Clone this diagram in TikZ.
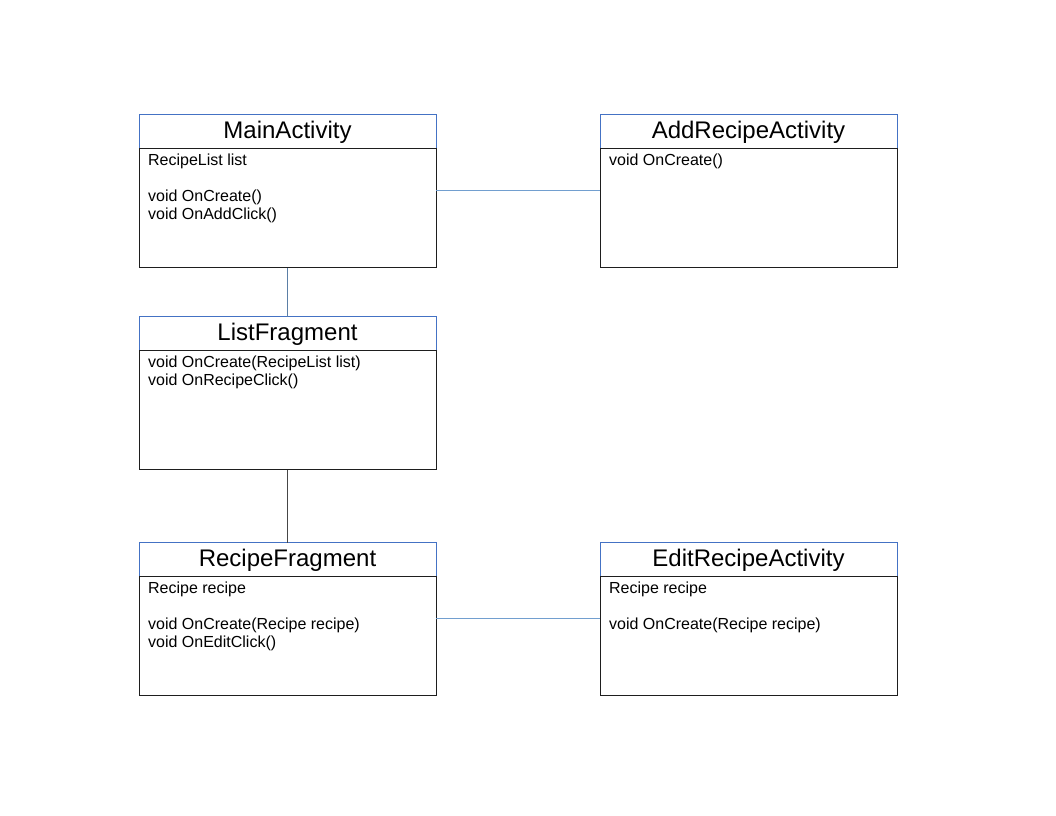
\documentclass[tikz,border=0pt]{standalone}
\usepackage{fontspec}
\setmainfont{Liberation Sans}
\usepackage{xcolor}
\definecolor{headline}{RGB}{68, 114, 196}
\definecolor{boxline}{RGB}{30, 30, 30}
\definecolor{linkblue}{RGB}{114, 159, 207}
\definecolor{linkgray}{RGB}{70, 70, 70}
\usepackage{tikz}
\usetikzlibrary{positioning}
\newcommand{\members}[1]{\parbox[t][82pt][t]{209pt}{#1}}

\begin{document}
\begin{tikzpicture}[x=0.75pt, y=-0.75pt,
    classtitle/.style={draw=headline, line width=0.75pt, minimum width=222.75pt,
      minimum height=25.5pt, inner sep=0pt, outer sep=0pt, font=\fontsize{18}{20}\selectfont},
    classbody/.style={draw=boxline, line width=0.75pt, minimum width=222.75pt, outer sep=0pt,
      inner xsep=6.75pt, inner ysep=3.6pt, font=\fontsize{12}{13.5}\selectfont},
    link/.style={line width=0.75pt}]
    \useasboundingbox (0,0) rectangle (1056,816);

    % activities and fragments
    \node[classtitle, anchor=north west] (maintitle) at (139,115) {MainActivity};
    \node[classbody, below=0pt of maintitle] (mainbody) {\members{RecipeList list\\[13.5pt]
      void OnCreate()\\ void OnAddClick()}};

    \node[classtitle, right=123pt of maintitle] (addtitle) {AddRecipeActivity};
    \node[classbody, below=0pt of addtitle] (addbody) {\members{void OnCreate()}};

    \node[classtitle, below=36.75pt of mainbody] (listtitle) {ListFragment};
    \node[classbody, below=0pt of listtitle] (listbody) {\members{void OnCreate(RecipeList list)\\
      void OnRecipeClick()}};

    \node[classtitle, below=54.75pt of listbody] (recipetitle) {RecipeFragment};
    \node[classbody, below=0pt of recipetitle] (recipebody) {\members{Recipe recipe\\[13.5pt]
      void OnCreate(Recipe recipe)\\ void OnEditClick()}};

    \node[classtitle, right=123pt of recipetitle] (edittitle) {EditRecipeActivity};
    \node[classbody, below=0pt of edittitle] (editbody) {\members{Recipe recipe\\[13.5pt]
      void OnCreate(Recipe recipe)}};

    % links
    \draw[link, draw=linkblue] ([yshift=13.1pt]mainbody.east) -- ([yshift=13.1pt]addbody.west);
    \draw[link, draw=linkblue!80!black] (mainbody.south) -- (listtitle.north);
    \draw[link, draw=linkgray] (listbody.south) -- (recipetitle.north);
    \draw[link, draw=linkblue] ([yshift=13.1pt]recipebody.east) -- ([yshift=13.1pt]editbody.west);
\end{tikzpicture}
\end{document}
